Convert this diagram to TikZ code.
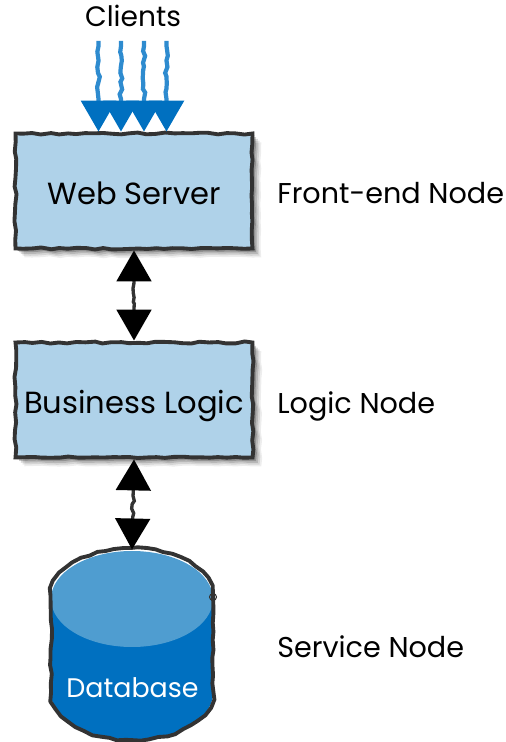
\documentclass[tikz,border=0pt]{standalone}
\usepackage{fontspec}
\setmainfont{Poppins}
\usetikzlibrary{arrows.meta,shapes.geometric,shadows,decorations.pathmorphing}
\definecolor{TierBlue}{RGB}{175,210,233}
\definecolor{TierInk}{RGB}{51,51,51}
\definecolor{TierDeep}{RGB}{0,112,192}
\definecolor{TierSky}{RGB}{79,157,208}
\definecolor{TierStream}{RGB}{46,139,207}
\tikzset{
  tier/rough/.style={
    decorate,
    decoration={random steps,segment length=5pt,amplitude=0.6pt}
  },
  tier/box/.style={
    tier/rough,
    draw=TierInk,
    line width=2.2pt,
    fill=TierBlue,
    align=center,
    minimum width=4.74cm,
    minimum height=2.3cm,
    inner sep=0pt,
    text height=0.56cm,
    text depth=0pt,
    font=\fontsize{17.4}{20}\selectfont,
    general shadow={shadow xshift=5pt,shadow yshift=-5pt,fill=black,opacity=0.07},
    general shadow={shadow xshift=4pt,shadow yshift=-4pt,fill=black,opacity=0.1},
    general shadow={shadow xshift=3pt,shadow yshift=-3pt,fill=black,opacity=0.14},
    general shadow={shadow xshift=2pt,shadow yshift=-2pt,fill=black,opacity=0.2},
    general shadow={shadow xshift=1pt,shadow yshift=-1pt,fill=black,opacity=0.25}
  },
  tier/db/.style={
    cylinder,
    shape border rotate=90,
    aspect=1.15,
    minimum height=3.76cm,
    minimum width=3.24cm,
    inner sep=0pt
  },
  tier/dbline/.style={tier/rough,draw=TierInk,line width=2.2pt,line join=round},
  tier/dbtext/.style={anchor=base,text=white,inner sep=0pt,font=\fontsize{15.3}{18}\selectfont},
  tier/label/.style={anchor=base west,inner sep=0pt,font=\fontsize{16.3}{20}\selectfont},
  tier/arrow/.style={
    {Triangle[length=8.6mm,width=9.6mm,scale=0.72,color=black]}-{Triangle[length=8.6mm,width=9.6mm,scale=0.72,color=black]},
    draw=TierInk,
    line width=1.9pt,
    decorate,
    decoration={random steps,segment length=2.5pt,amplitude=0.8pt,pre length=6.5mm,post length=6.5mm}
  },
  tier/inflow/.style={
    -{Triangle[length=8.6mm,width=9.6mm,scale=0.72,color=TierDeep]},
    draw=TierStream,
    line width=2.4pt,
    decorate,
    decoration={random steps,segment length=3pt,amplitude=0.8pt,pre length=1mm,post length=6.5mm}
  }
}
\begin{document}
\begin{tikzpicture}[x=1cm,y=1cm]
  \useasboundingbox (0,0) rectangle (10.1,14.84);
  \node[tier/box] (web) at (2.68,11.02) {Web Server};
  \node[tier/box] (logic) at (2.68,6.84) {Business Logic};
  \node[tier/db] (database) at (2.64,1.96) {};
  \fill[TierDeep] (4.26,2.86) -- (1.02,2.86)
    -- (1.02,0.98) arc[start angle=180,end angle=360,x radius=1.62,y radius=0.94] -- cycle;
  \fill[TierSky] (2.64,2.86) ellipse[x radius=1.62,y radius=0.96];
  \draw[tier/dbline] (4.26,2.94) arc[start angle=0,end angle=180,x radius=1.62,y radius=0.94]
    -- (1.02,0.98) arc[start angle=180,end angle=360,x radius=1.62,y radius=0.94] -- cycle;
  \draw[TierInk,line width=0.6pt] (4.26,2.9) circle[radius=0.07];
  \node[tier/dbtext] (dbtext) at (2.65,0.88) {Database};
  \node[anchor=base,inner sep=0pt,font=\fontsize{16}{18}\selectfont] (clients) at (2.66,14.3) {Clients};
  \node[tier/label] (frontend) at (5.54,10.76) {Front-end Node};
  \node[tier/label] (logicnode) at (5.54,6.56) {Logic Node};
  \node[tier/label] (service) at (5.54,1.68) {Service Node};
  \foreach \x [count=\i] in {1.97,2.42,2.88,3.33} {
    \coordinate (flow\i) at (\x,14.02);
    \draw[tier/inflow] (flow\i) -- (flow\i |- web.north);
  }
  \draw[tier/arrow] (web.south) -- (logic.north);
  \draw[tier/arrow] (logic.south) -- (database.top);
\end{tikzpicture}
\end{document}
